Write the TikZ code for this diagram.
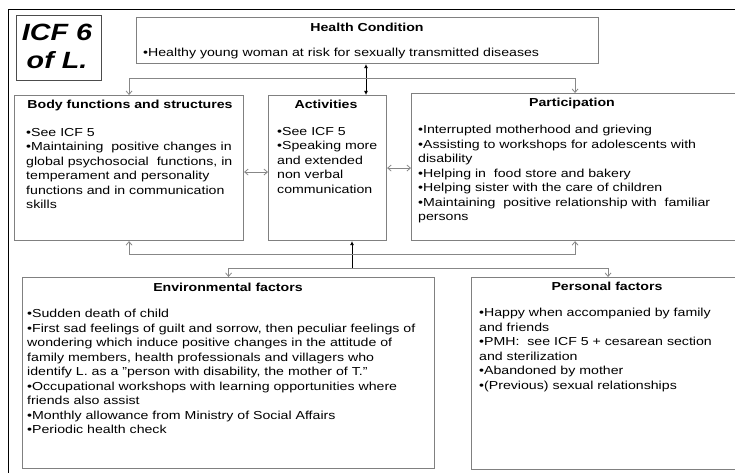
\documentclass[tikz,border=0pt]{standalone}
\usepackage{fontspec}
\setmainfont[FakeStretch=1.22]{Liberation Sans}
\usetikzlibrary{arrows.meta}
\definecolor{boxgray}{RGB}{128,128,128}
\definecolor{linegray}{RGB}{135,135,135}
\begin{document}
\begin{tikzpicture}[x=1pt, y=-1pt,
        box/.style={draw=boxgray, line width=1.1pt, inner sep=0pt, anchor=north west},
        title/.style={font=\fontsize{11.6}{14.5}\selectfont\bfseries, inner sep=0pt, anchor=north},
        items/.style={font=\fontsize{11.6}{14.5}\selectfont, align=left, inner sep=0pt, anchor=north west},
        link/.style={draw=linegray, line width=0.8pt},
        openarrow/.style={link, -{Straight Barb[length=3.5pt, width=6pt]}},
        openboth/.style={link, {Straight Barb[length=3.5pt, width=6pt]}-{Straight Barb[length=3.5pt, width=6pt]}},
        fullarrow/.style={draw=black, line width=0.8pt, -{Latex[length=4pt, width=4pt]}},
        fullboth/.style={draw=black, line width=0.8pt, {Latex[length=4pt, width=4pt]}-{Latex[length=4pt, width=4pt]}}
    ]
        \useasboundingbox (0,0) rectangle (735,473);
        \draw[line width=1pt] (8,474) -- (8,10) -- (736,10);

        % boxes
        \node[box, draw=black!70, minimum width=85pt, minimum height=65pt] (icf) at (16,15) {};
        \node[box, minimum width=462pt, minimum height=46pt] (health) at (136,17) {};
        \node[box, minimum width=229pt, minimum height=145pt] (body) at (14,95) {};
        \node[box, minimum width=118pt, minimum height=145pt] (act) at (268,95) {};
        \node[box, minimum width=327pt, minimum height=147pt] (part) at (411,93) {};
        \node[box, minimum width=412pt, minimum height=191pt] (env) at (22,277) {};
        \node[box, minimum width=267pt, minimum height=192pt] (pers) at (471,277) {};

        % texts
        \node[font=\fontsize{23.5}{28}\selectfont\bfseries\itshape, align=center, inner sep=0pt, anchor=north] (icfT) at (57,24) {ICF 6\\of L.};

        \node[title] (healthT) at (367,23) {Health Condition};
        \node[items] (healthL) at (143,48) {•Healthy young woman at risk for sexually transmitted diseases};

        \node[title] (bodyT) at (130,100) {Body functions and structures};
        \node[items] (bodyL) at (26,128) {•See ICF 5\\•Maintaining\ \ positive changes in\\global psychosocial\ \ functions, in\\temperament and personality\\functions and in communication\\skills};

        \node[title] (actT) at (326,100) {Activities};
        \node[items] (actL) at (277,127) {•See ICF 5\\•Speaking more\\and extended\\non verbal\\communication};

        \node[title] (partT) at (572,98) {Participation};
        \node[items] (partL) at (418,125) {•Interrupted motherhood and grieving\\•Assisting to workshops for adolescents with\\disability\\•Helping in\ \ food store and bakery\\•Helping sister with the care of children\\•Maintaining\ \ positive relationship with\ \ familiar\\persons};

        \node[title] (envT) at (228,283) {Environmental factors};
        \node[items] (envL) at (27,309) {•Sudden death of child\\•First sad feelings of guilt and sorrow, then peculiar feelings of\\wondering which induce positive changes in the attitude of\\family members, health professionals and villagers who\\identify L. as a "person with disability, the mother of T."\\•Occupational workshops with learning opportunities where\\friends also assist\\•Monthly allowance from Ministry of Social Affairs\\•Periodic health check};

        \node[title] (persT) at (607,282) {Personal factors};
        \node[items] (persL) at (479,308) {•Happy when accompanied by family\\and friends\\•PMH:\ \ see ICF 5 + cesarean section\\and sterilization\\•Abandoned by mother\\•(Previous) sexual relationships};

        % connectors
        \coordinate (tophub) at (366,78);
        \coordinate (midhub) at (352,254);
        \coordinate (lowhub) at (352,268);

        \draw[fullboth] (health.south -| tophub) -- (act.north -| tophub);
        \draw[openarrow] (tophub) -| (body.north);
        \draw[openarrow] (tophub) -| (part.north);

        \draw[openboth] ([yshift=-4pt]body.east) -- ([yshift=-4pt]act.west);
        \draw[openboth] (act.east) -- (act.east -| part.west);

        \draw[fullarrow] (lowhub) -- (act.south -| lowhub);
        \draw[openarrow] (midhub) -| (body.south);
        \draw[openarrow] (midhub) -| (part.south);
        \draw[openarrow] (lowhub) -| (env.north);
        \draw[openarrow] (lowhub) -| ([xshift=3pt]pers.north);
    \end{tikzpicture}
\end{document}
